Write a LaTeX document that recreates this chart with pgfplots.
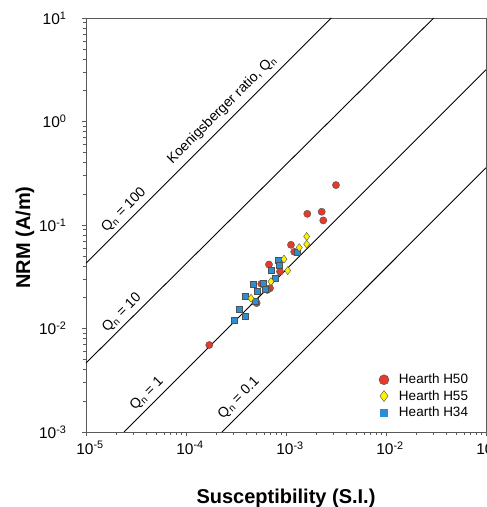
\documentclass[border=0pt]{standalone}
\usepackage{fontspec}
\setmainfont{Liberation Sans}
\usepackage{pgfplots}
\pgfplotsset{compat=1.18}
\definecolor{qred}{HTML}{E53A2C}
\definecolor{qyel}{HTML}{FFF200}
\definecolor{qblue}{HTML}{2B8FD4}
\definecolor{edgegray}{HTML}{505050}
\begin{document}
\begin{tikzpicture}
\path[use as bounding box] (-86pt,-75pt) rectangle (401pt,432pt);
\begin{axis}[
 xmode=log, ymode=log, scale only axis, width=400pt, height=414pt,
 xmin=1e-5, xmax=1e-1, ymin=1e-3, ymax=1e1,
 axis line style={draw=black!65, line width=0.6pt},
 tick pos=left, tick align=outside, major tick length=4pt, minor tick length=3pt,
 every tick/.style={black!65, line width=0.5pt},
 /pgf/number format/assume math mode=true,
 log number format basis/.code 2 args={#1\textsuperscript{\pgfmathprintnumber{#2}}},
 xticklabel style={font=\fontsize{15.5}{17}\selectfont, xshift=4pt, yshift=-2pt},
 yticklabel style={font=\fontsize{15.5}{17}\selectfont, xshift=-12pt},
 xlabel={Susceptibility (S.I.)}, ylabel={NRM (A/m)},
 label style={font=\fontsize{20}{24}\selectfont\bfseries},
 xlabel style={at={(axis description cs:0.5,0)}, anchor=base, yshift=-71pt},
 ylabel style={at={(axis description cs:-0.1525,0.47)}, anchor=center},
 legend cell align=left,
 legend style={draw=none, fill=none, at={(axis description cs:0.7245,0.15)}, anchor=north west,
   font=\fontsize{13.5}{15}\selectfont, row sep=1pt,
   /tikz/every odd column/.append style={column sep=8pt}},
]
\addlegendimage{only marks, mark=*, mark size=5pt, mark options={fill=qred, draw=edgegray, line width=0.4pt}}
\addlegendentry{Hearth H50}
\addlegendimage{only marks, mark=diamond*, mark size=5.5pt, mark options={fill=qyel, draw=edgegray, line width=0.4pt}}
\addlegendentry{Hearth H55}
\addlegendimage{only marks, mark=square*, mark size=3.6pt, mark options={fill=qblue, draw=qblue}}
\addlegendentry{Hearth H34}

% Koenigsberger ratio lines
\addplot[black, line width=0.9pt, forget plot] coordinates {(1e-5,0.0428) (2.84e-3,10)};
\addplot[black, line width=0.9pt, forget plot] coordinates {(1e-5,4.64e-3) (0.0300,10)};
\addplot[black, line width=0.9pt, forget plot] coordinates {(2.4e-5,1e-3) (0.1,3.17)};
\addplot[black, line width=0.9pt, forget plot] coordinates {(2.29e-4,1e-3) (0.1,0.357)};

% Hearth H50
\addplot[only marks, mark=*, mark size=3.6pt, mark options={fill=qred, draw=edgegray, line width=0.4pt}, forget plot] coordinates {
(1.710e-4,6.93e-3) (3.16e-3,0.243) (1.633e-3,0.1282) (2.275e-3,0.1343) (2.36e-3,0.1107)
(1.122e-3,0.0644) (1.21e-3,0.0551) (6.76e-4,0.0415) (8.71e-4,0.0355) (5.66e-4,0.0270)
(6.92e-4,0.0245) (6.50e-4,0.0236) (5.09e-4,0.0176)};
% Hearth H34
\addplot[only marks, mark=square*, mark size=3pt, mark options={fill=qblue, draw=edgegray, line width=0.4pt}, forget plot] coordinates {
(3.02e-4,0.0121) (3.41e-4,0.0154) (3.92e-4,0.01325) (3.92e-4,0.0207) (4.71e-4,0.0270)
(4.90e-4,0.0182) (5.21e-4,0.0231) (5.93e-4,0.0274) (6.17e-4,0.0240) (7.19e-4,0.0369)
(7.76e-4,0.0306) (8.45e-4,0.0454) (8.57e-4,0.0412) (1.303e-3,0.0545)};
% Hearth H55
\addplot[only marks, mark=diamond*, mark size=4pt, mark options={fill=qyel, draw=edgegray, line width=0.4pt}, forget plot] coordinates {
(1.61e-3,0.0775) (1.61e-3,0.0653) (1.358e-3,0.0605) (9.55e-4,0.0468) (1.04e-3,0.0363)
(7.08e-4,0.0284) (4.47e-4,0.0196)};

\node[rotate=45, font=\fontsize{14}{16}\selectfont] at (axis cs:2.4e-5,0.140) {Q\textsubscript{n} = 100};
\node[rotate=45, font=\fontsize{14}{16}\selectfont] at (axis cs:2.29e-4,1.30) {Koenigsberger ratio, Q\textsubscript{n}};
\node[rotate=45, font=\fontsize{14}{16}\selectfont] at (axis cs:2.29e-5,0.01416) {Q\textsubscript{n} = 10};
\node[rotate=45, font=\fontsize{14}{16}\selectfont] at (axis cs:4.07e-5,2.33e-3) {Q\textsubscript{n} = 1};
\node[rotate=45, font=\fontsize{14}{16}\selectfont] at (axis cs:3.39e-4,2.13e-3) {Q\textsubscript{n} = 0.1};
\end{axis}
\end{tikzpicture}
\end{document}
